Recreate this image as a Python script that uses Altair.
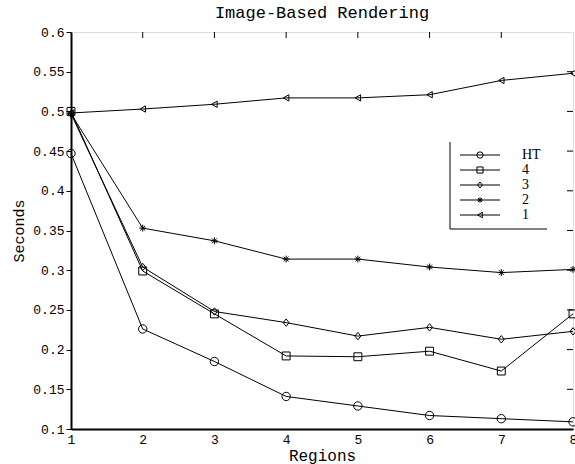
import altair as alt
import pandas as pd

regions = [1, 2, 3, 4, 5, 6, 7, 8]
series_names = ["HT", "4", "3", "2", "1"]
ht = [0.447, 0.226, 0.185, 0.141, 0.129, 0.117, 0.113, 0.109]
s4 = [0.500, 0.299, 0.245, 0.192, 0.191, 0.198, 0.173, 0.245]
s3 = [0.497, 0.304, 0.248, 0.234, 0.217, 0.228, 0.213, 0.223]
s2 = [0.497, 0.353, 0.337, 0.314, 0.314, 0.304, 0.297, 0.301]
s1 = [0.498, 0.503, 0.509, 0.517, 0.517, 0.521, 0.539, 0.548]
y_ticks = [0.1, 0.15, 0.2, 0.25, 0.3, 0.35, 0.4, 0.45, 0.5, 0.55, 0.6]

shapes = {
    "HT": "circle",
    "4": "square",
    "3": "M0,-1L0.8,0L0,1L-0.8,0Z",
    "2": "M-1,0L1,0M0,-1L0,1M-0.7,-0.7L0.7,0.7M-0.7,0.7L0.7,-0.7",
    "1": "triangle-left",
}
sizes = {"HT": 70, "4": 40, "3": 140, "2": 45, "1": 70}
leg_sizes = [40, 30, 80, 30, 40]

rows = []
for name, vals in zip(series_names, [ht, s4, s3, s2, s1]):
    for r, v in zip(regions, vals):
        rows.append({"Region": r, "Seconds": v, "series": name})
df = pd.DataFrame(rows)

MONO = "Liberation Mono"
W, H = 502, 397

xs = alt.Scale(domain=[1, 8], nice=False, zero=False)
ys = alt.Scale(domain=[0.1, 0.6], nice=False, zero=False)
shape_scale = alt.Scale(domain=series_names, range=[shapes[s] for s in series_names])
size_scale = alt.Scale(domain=series_names, range=[sizes[s] for s in series_names])
leg_size_scale = alt.Scale(domain=series_names, range=leg_sizes)

base = alt.Chart(df)
lines = base.mark_line(color="black", strokeWidth=1).encode(
    x=alt.X("Region:Q", scale=xs,
            axis=alt.Axis(values=regions, title="Regions", grid=False, tickSize=0,
                          labelFont=MONO, labelFontSize=13, labelColor="black",
                          titleFont=MONO, titleFontSize=16, titleFontWeight="normal",
                          titleColor="black", titlePadding=1, labelPadding=4,
                          domainColor="black", domainWidth=2, labelFlush=False)),
    y=alt.Y("Seconds:Q", scale=ys,
            axis=alt.Axis(values=y_ticks, format="~g", title="Seconds", grid=False,
                          tickSize=5, tickColor="black", labelFont=MONO, labelFontSize=13,
                          labelColor="black", titleFont=MONO, titleFontSize=15,
                          titleFontWeight="normal", titleColor="black", titlePadding=6,
                          domainColor="black", domainWidth=2, labelPadding=2)),
    detail="series:N",
)
points = base.mark_point(color="black", strokeWidth=1, filled=False, opacity=1).encode(
    x=alt.X("Region:Q", scale=xs, axis=None),
    y=alt.Y("Seconds:Q", scale=ys, axis=None),
    shape=alt.Shape("series:N", scale=shape_scale, legend=None),
    size=alt.Size("series:N", scale=size_scale, legend=None),
)

top_ticks = alt.Chart(pd.DataFrame({"t": regions[1:-1]})).mark_rule(color="black", strokeWidth=1).encode(
    x=alt.X("t:Q", scale=xs, axis=None), y=alt.value(0), y2=alt.value(6))
right_ticks = alt.Chart(pd.DataFrame({"t": y_ticks[1:-1]})).mark_rule(color="black", strokeWidth=1).encode(
    y=alt.Y("t:Q", scale=ys, axis=None), x=alt.value(W), x2=alt.value(W - 6))

# legend
leg_df = pd.DataFrame({"series": series_names, "pos": [0, 1, 2, 3, 4]})
leg_y = alt.Scale(domain=[0, 4], range=[123, 183])
leg_base = alt.Chart(leg_df)
leg_lines = leg_base.mark_rule(color="black", strokeWidth=1).encode(
    y=alt.Y("pos:Q", scale=leg_y, axis=None), x=alt.value(389), x2=alt.value(429))
leg_pts = leg_base.mark_point(color="black", filled=False, strokeWidth=1, opacity=1).encode(
    y=alt.Y("pos:Q", scale=leg_y, axis=None), x=alt.value(409),
    shape=alt.Shape("series:N", scale=shape_scale, legend=None),
    size=alt.Size("series:N", scale=leg_size_scale, legend=None))
leg_text = leg_base.mark_text(align="left", baseline="middle", font="Liberation Serif",
                              fontSize=14, color="black").encode(
    y=alt.Y("pos:Q", scale=leg_y, axis=None), x=alt.value(451), text="series:N")
leg_frame_v = alt.Chart(pd.DataFrame({"a": [0]})).mark_rule(color="black", strokeWidth=1).encode(
    x=alt.value(379), y=alt.value(110), y2=alt.value(197))
leg_frame_h = alt.Chart(pd.DataFrame({"a": [0]})).mark_rule(color="black", strokeWidth=1).encode(
    x=alt.value(379), x2=alt.value(476), y=alt.value(197))

chart = alt.layer(
    lines, points, top_ticks, right_ticks,
    leg_frame_v, leg_frame_h, leg_lines, leg_pts, leg_text,
).resolve_scale(
    x="independent", y="independent", size="independent"
).properties(
    width=W, height=H,
    title=alt.TitleParams("Image-Based Rendering", font=MONO, fontSize=17,
                          fontWeight="normal", color="black", frame="group",
                          offset=4, anchor="middle"),
    autosize=alt.AutoSizeParams(type="none"),
    padding={"left": 71, "top": 32, "right": 2, "bottom": 35},
).configure_view(stroke="black", strokeWidth=1).configure(background="white")

chart.save("out.html", embed_options={"renderer": "svg", "actions": False})
